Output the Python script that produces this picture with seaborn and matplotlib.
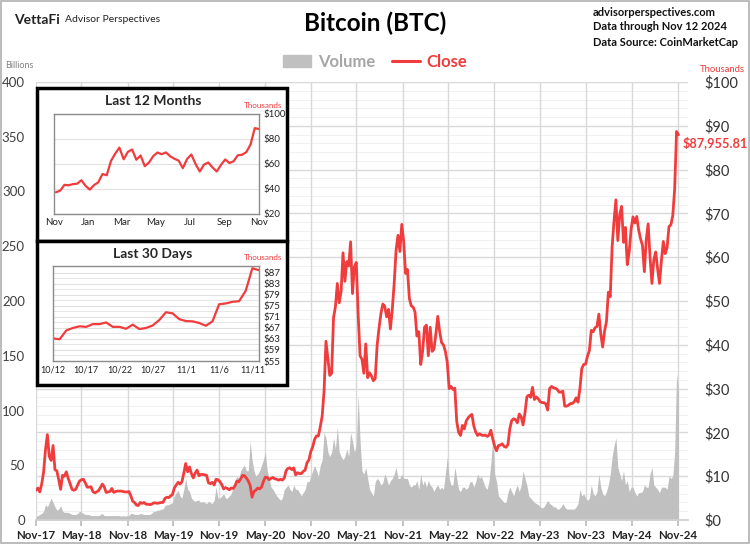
import numpy as np
import pandas as pd
import seaborn as sns
import matplotlib.pyplot as plt
from matplotlib.patches import Rectangle, Patch
from matplotlib.lines import Line2D

# BTC close, thousands of USD, ~4 readings per month (Nov-2017 .. Nov 12 2024)
close_2017 = [6.8, 7.3, 6.4, 8.2, 10.9, 16.0, 19.5, 14.5]
close_2018 = [13.6, 17.0, 11.5, 11.2, 9.2, 7.0, 10.2, 10.0, 11.0, 9.5, 8.3, 7.0,
              6.8, 7.0, 8.0, 8.9, 9.2, 9.3, 8.5, 7.5, 7.5, 7.6, 6.5, 6.2,
              6.4, 6.7, 7.4, 8.2, 7.6, 6.3, 6.4, 6.5, 7.2, 6.3, 6.5, 6.6,
              6.6, 6.6, 6.5, 6.4, 6.4, 6.5, 5.6, 4.3, 4.0, 3.4, 3.3, 4.0]
close_2019 = [3.8, 4.0, 3.6, 3.6, 3.5, 3.6, 3.9, 3.9, 3.8, 3.9, 4.0, 4.0,
              4.9, 5.2, 5.1, 5.5, 5.8, 7.3, 8.0, 8.6, 8.2, 8.7, 10.7, 12.9,
              11.0, 12.1, 10.6, 9.6, 10.7, 11.4, 10.1, 10.4, 10.4, 10.3, 10.2, 8.5,
              8.3, 8.6, 8.0, 9.3, 9.2, 8.8, 8.1, 7.1, 7.4, 7.2, 6.9, 7.3]
close_2020 = [7.2, 7.8, 8.9, 8.7, 9.4, 10.2, 10.1, 9.6, 8.9, 7.9, 5.2, 6.5,
              6.8, 7.3, 7.1, 7.5, 8.8, 9.8, 9.7, 9.2, 9.5, 9.7, 9.4, 9.3,
              9.1, 9.3, 9.1, 9.6, 11.3, 11.8, 11.9, 11.5, 11.9, 10.3, 10.8, 10.6,
              10.6, 11.1, 11.4, 13.1, 13.7, 15.6, 16.7, 18.4, 19.2, 19.2, 21.3, 23.7]
close_2021 = [29.4, 40.8, 36.8, 33.0, 33.5, 46.2, 48.7, 54.0, 49.6, 52.2, 61.0, 54.5,
              59.0, 58.0, 63.5, 51.7, 57.8, 58.8, 46.8, 37.5, 36.7, 33.5, 40.2, 32.5,
              33.6, 32.9, 31.8, 32.3, 39.9, 43.8, 47.1, 49.3, 48.8, 46.4, 48.1, 43.6,
              48.1, 54.0, 61.6, 65.0, 61.3, 67.5, 63.6, 56.3, 57.2, 50.6, 48.9, 48.6]
close_2022 = [47.5, 42.0, 43.0, 35.5, 38.5, 44.0, 44.5, 37.5, 44.0, 38.5, 39.0, 42.5,
              46.5, 43.0, 40.5, 40.0, 38.5, 36.0, 30.0, 30.5, 29.8, 30.1, 22.5, 20.0,
              19.3, 21.6, 20.8, 22.6, 23.3, 23.8, 24.1, 21.5, 20.1, 19.3, 19.7, 19.4,
              19.3, 19.4, 19.1, 19.3, 20.5, 18.5, 16.9, 15.8, 17.0, 17.1, 17.4, 16.8]
close_2023 = [16.6, 17.2, 20.8, 22.7, 23.1, 22.9, 22.2, 24.2, 23.6, 21.7, 24.4, 28.1,
              28.5, 28.0, 30.3, 27.5, 28.1, 27.7, 27.0, 26.8, 26.8, 26.5, 25.1, 30.0,
              30.5, 30.2, 30.1, 29.8, 29.2, 29.2, 29.4, 26.0, 26.0, 26.2, 26.6, 26.6,
              27.0, 27.9, 26.9, 30.0, 34.6, 35.5, 35.6, 37.4, 38.7, 43.3, 43.0, 43.9]
close_2024 = [44.2, 47.0, 42.5, 39.5, 43.1, 45.3, 52.0, 51.0, 62.4, 68.3, 73.1, 63.8,
              69.7, 71.6, 63.4, 66.8, 58.3, 61.2, 66.3, 69.2, 67.8, 69.3, 66.2, 64.2,
              62.7, 56.7, 64.0, 67.6, 60.0, 54.0, 59.5, 61.2, 57.3, 54.0, 59.2, 63.6,
              60.8, 62.2, 67.0, 67.4, 69.5, 75.6, 88.7, 87.95581]

# daily volume, billions of USD, same sampling
vol_2017 = [3, 4, 5, 6, 8, 14, 12, 16]
vol_2018 = [20, 16, 12, 9, 10, 13, 8, 7, 7, 7, 6, 5, 5, 5, 6, 8, 7, 6, 5, 5, 5, 4, 4, 4,
            4, 4, 5, 6, 4, 4, 4, 4, 4, 4, 4, 4, 4, 3.5, 4, 3.5, 4, 4, 6, 6, 5, 5, 5, 6]
vol_2019 = [5.5, 5, 5, 5, 5, 6, 8, 8, 9, 9, 10, 10, 13, 14, 14, 15, 16, 22, 25, 27, 22, 20, 28, 38,
            28, 26, 20, 18, 17, 18, 18, 16, 17, 16, 15, 17, 16, 15, 18, 30, 20, 20, 22, 24, 20, 20, 22, 24]
vol_2020 = [30, 35, 40, 38, 45, 48, 50, 45, 45, 72, 55, 45, 40, 42, 45, 50, 55, 62, 45, 38, 30, 28, 25, 22,
            20, 18, 20, 28, 30, 32, 28, 26, 32, 28, 28, 25, 22, 25, 28, 35, 35, 40, 45, 50, 45, 40, 50, 55]
vol_2021 = [80, 75, 62, 58, 62, 75, 65, 85, 62, 58, 55, 58, 65, 58, 80, 72, 62, 68, 115, 72, 45, 42, 48, 38,
            28, 25, 22, 35, 38, 36, 32, 34, 42, 38, 32, 36, 38, 42, 48, 38, 38, 42, 38, 38, 38, 32, 30, 32]
vol_2022 = [32, 36, 28, 42, 32, 36, 30, 36, 32, 30, 26, 30, 32, 28, 30, 28, 42, 58, 38, 32, 32, 48, 38, 28,
            26, 30, 30, 28, 30, 35, 35, 30, 35, 42, 38, 40, 35, 30, 28, 35, 52, 75, 42, 35, 22, 20, 18, 16]
vol_2023 = [16, 25, 30, 26, 22, 28, 32, 26, 32, 45, 38, 32, 22, 20, 18, 16, 15, 14, 12, 11, 12, 15, 18, 15,
            14, 12, 12, 10, 10, 12, 15, 12, 10, 10, 10, 10, 10, 12, 15, 28, 22, 24, 20, 18, 20, 32, 24, 22]
vol_2024 = [26, 42, 30, 24, 22, 26, 32, 42, 58, 68, 75, 48, 42, 36, 45, 32, 36, 26, 30, 30, 25, 22, 25, 25,
            26, 32, 30, 30, 42, 48, 32, 30, 28, 25, 30, 30, 30, 28, 40, 38, 40, 62, 134, 118]

# last 30 days, daily close (thousands)
close_30d = [63.2, 62.9, 66.1, 67.0, 67.6, 67.4, 68.4, 68.4, 69.0, 67.4, 67.4, 66.7,
             68.2, 66.6, 67.0, 67.9, 69.9, 72.7, 72.3, 70.2, 69.5, 69.4, 68.8, 67.8,
             69.4, 75.6, 75.9, 76.5, 76.7, 80.5, 88.7, 87.96]

red = '#f03c3c'
grey = '#c0c0c0'

close = np.concatenate([close_2017, close_2018, close_2019, close_2020,
                        close_2021, close_2022, close_2023, close_2024])
volume = np.concatenate([vol_2017, vol_2018, vol_2019, vol_2020,
                         vol_2021, vol_2022, vol_2023, vol_2024])
dates = pd.date_range('2017-11-09', '2024-11-12', periods=len(close))
df = pd.DataFrame({'date': dates, 'close': close, 'volume': volume})

sns.set_theme(style='white')
plt.rcParams['font.family'] = ['Lato', 'DejaVu Sans']

fig = plt.figure(figsize=(7.5, 5.44), dpi=100)
ax = fig.add_axes([36 / 750, 24 / 544, 652 / 750, 438 / 544])
ax2 = ax.twinx()

# grid on the volume axis so it stays behind everything
for v in np.arange(0, 401, 8):
    major = v % 40 == 0
    ax.axhline(v, color='#d9d9d9' if major else '#eeeeee', lw=1.0 if major else 0.6, zorder=0)

ax.fill_between(df['date'], 0, df['volume'], color=grey, lw=0, zorder=1)
sns.lineplot(data=df, x='date', y='close', ax=ax2, color=red, lw=2.0)

xticks = pd.date_range('2017-11-09', periods=15, freq=pd.DateOffset(months=6))
ax.set_xticks(xticks)
ax.set_xticklabels([d.strftime('%b-%y') for d in xticks], fontsize=8.3,
                   fontweight='bold', color='#222222')
ax.grid(axis='x', color='#d9d9d9', lw=1.0)
ax.set_xlim(pd.Timestamp('2017-11-09'), pd.Timestamp('2024-12-20'))
ax.set_ylim(0, 400)
ax.set_yticks(np.arange(0, 401, 50))
ax.tick_params(axis='y', labelsize=9.5, labelcolor='#404040', length=0, pad=8)
ax.tick_params(axis='x', length=4, color='#bbbbbb', pad=3, bottom=True)
ax2.set_ylim(0, 100)
ax2.set_yticks(np.arange(0, 101, 10))
ax2.set_yticklabels([f'${v}' for v in range(0, 101, 10)])
ax2.tick_params(axis='y', labelsize=10.5, labelcolor='#333333', length=0, pad=12)
ax.set_xlabel('')
ax.set_ylabel('')
ax2.set_xlabel('')
ax2.set_ylabel('')
for a in (ax, ax2):
    for s in a.spines.values():
        s.set_visible(False)
ax.spines['bottom'].set_visible(True)
ax.spines['bottom'].set_color('#d0d0d0')

ax2.annotate('$87,955.81', xy=(df['date'].iloc[-1], close[-1]), xytext=(3, -6),
             textcoords='offset points', color=red, fontsize=9.2,
             fontweight='bold', va='center', ha='left')

# header texts
fig.text(0.5, 0.958, 'Bitcoin (BTC)', ha='center', va='center', fontsize=17.5, fontweight='bold', color='black')
fig.text(14 / 750, 1 - 20 / 544, 'VettaFi', fontsize=10, fontweight='bold', va='center', color='#222222')
fig.text(65 / 750, 1 - 20 / 544, 'Advisor Perspectives', fontsize=7.5, va='center', color='#222222')
fig.text(5 / 750, 1 - 66 / 544, 'Billions', fontsize=6.5, va='center', color='#808080')
fig.text(700 / 750, 1 - 70 / 544, 'Thousands', fontsize=6.8, va='center', color=red)
for i, line in enumerate(['advisorperspectives.com', 'Data through Nov 12 2024',
                          'Data Source: CoinMarketCap']):
    fig.text(593 / 750, 1 - (12 + 15 * i) / 544, line, fontsize=8.0, fontweight='bold',
             va='center', color='#111111')

handles = [Patch(color=grey), Line2D([0], [0], color=red, lw=2.2)]
leg = fig.legend(handles, ['Volume', 'Close'], loc='center', bbox_to_anchor=(0.5, 1 - 62 / 544),
                 ncol=2, frameon=False, fontsize=12, handlelength=1.7, columnspacing=1.0,
                 handletextpad=0.4)
for t, c in zip(leg.get_texts(), ['#a6a6a6', red]):
    t.set_color(c)
    t.set_fontweight('bold')

# inset boxes
for top, bot in [(88, 241), (241, 385)]:
    fig.patches.append(Rectangle((37 / 750, 1 - bot / 544), 250 / 750, (bot - top) / 544,
                                 transform=fig.transFigure, facecolor='white',
                                 edgecolor='black', lw=2.5, zorder=5))


def style_inset(a):
    a.set_zorder(6)
    a.yaxis.tick_right()
    a.grid(axis='y', color='#e0e0e0', lw=0.8)
    a.grid(axis='x', visible=False)
    for s in a.spines.values():
        s.set_visible(True)
        s.set_color('#8c8c8c')
        s.set_linewidth(1.0)
    a.tick_params(axis='both', labelsize=7, length=0, colors='#222222', pad=3)
    a.set_xlabel('')
    a.set_ylabel('')


# last 12 months
last12 = df[df['date'] >= pd.Timestamp('2023-11-12')]
ia = fig.add_axes([54 / 750, 1 - 214 / 544, 205 / 750, 100 / 544])
sns.lineplot(data=last12, x='date', y='close', ax=ia, color=red, lw=1.6)
ia.set_xlim(pd.Timestamp('2023-11-12'), pd.Timestamp('2024-11-12'))
ia.set_ylim(20, 100)
ia.set_yticks(np.arange(20, 101, 20))
ia.set_yticklabels([f'${v}' for v in range(20, 101, 20)])
mt = pd.date_range('2023-11-12', periods=7, freq=pd.DateOffset(months=2))
ia.set_xticks(mt)
ia.set_xticklabels([d.strftime('%b') for d in mt])
style_inset(ia)
fig.text(153 / 750, 1 - 101 / 544, 'Last 12 Months', ha='center', va='center',
         fontsize=10, fontweight='bold', zorder=7)
fig.text(244 / 750, 1 - 105 / 544, 'Thousands', fontsize=5.8, color=red, va='center', zorder=7)

# last 30 days
d30 = pd.DataFrame({'date': pd.date_range('2024-10-12', periods=len(close_30d), freq='D'),
                    'close': close_30d})
ib = fig.add_axes([53 / 750, 1 - 361 / 544, 206 / 750, 95 / 544])
sns.lineplot(data=d30, x='date', y='close', ax=ib, color=red, lw=1.6)
ib.set_xlim(d30['date'].iloc[0], d30['date'].iloc[-1])
ib.set_ylim(55, 89.5)
ib.set_yticks(np.arange(55, 88, 2), minor=True)
ib.set_yticks(np.arange(55, 88, 4))
ib.set_yticklabels([f'${v}' for v in range(55, 88, 4)])
style_inset(ib)
ib.grid(axis='y', which='minor', color='#e6e6e6', lw=0.7)
ib.tick_params(axis='y', which='minor', length=0)
ib.tick_params(axis='x', labelsize=6.5)
dt = pd.date_range('2024-10-12', periods=7, freq='5D')
ib.set_xticks(dt)
ib.set_xticklabels([f'{d.month}/{d.day}' for d in dt])
fig.text(153 / 750, 1 - 254 / 544, 'Last 30 Days', ha='center', va='center',
         fontsize=10, fontweight='bold', zorder=7)
fig.text(244 / 750, 1 - 257 / 544, 'Thousands', fontsize=5.8, color=red, va='center', zorder=7)

fig.patches.append(Rectangle((0.001, 0.001), 0.998, 0.998, transform=fig.transFigure,
                             fill=False, edgecolor='#b0b0b0', lw=1.2))

fig.savefig('out.png', dpi=100)
